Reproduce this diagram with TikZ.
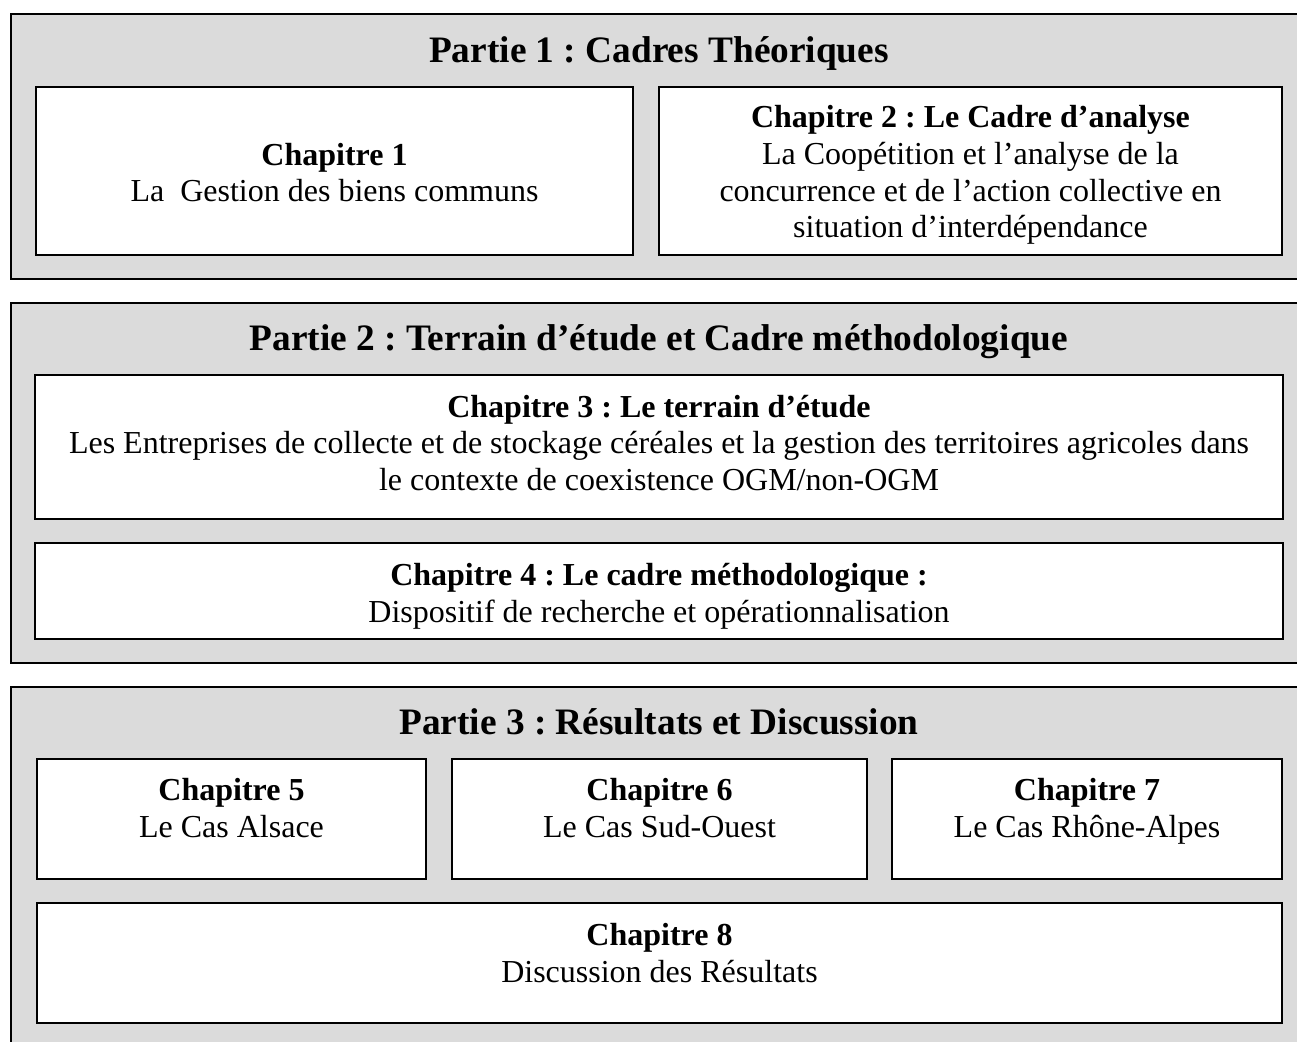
\documentclass[tikz,border=0pt]{standalone}
\usepackage{fontspec}
\setmainfont{Liberation Serif}
\frenchspacing
\newdimen\pxu \pxu=0.375pt

\begin{document}
\begin{tikzpicture}[x=\pxu, y=-\pxu,
	panel/.style = {fill=black!14, draw=black, line width=0.75pt},
	chbox/.style = {draw=black, fill=white, line width=0.75pt, inner sep=0pt},
	chtext/.style = {align=center, inner sep=0pt, font=\fontsize{12}{13.8}\selectfont},
	ptitle/.style = {font=\fontsize{14}{17}\selectfont\bfseries}
	]
	% Parameters
	\def\pageW{1297}  % picture width
	\def\pageH{1041}  % picture height
	\def\midX{659}    % centre of the titles
	
	% Fix the margins
	\useasboundingbox (0,0) rectangle (\pageW,\pageH);
	\clip (0,0) rectangle (\pageW,\pageH);
	
	% Draw the three parts (they run off the page to the right)
	\draw[panel] (11,14) rectangle (\pageW+20,279);
	\draw[panel] (11,303) rectangle (\pageW+20,663);
	\draw[panel] (11,687) rectangle (\pageW+20,\pageH+20);
	
	% Part titles
	\node[ptitle] (p1) at (\midX,53) {Partie 1 : Cadres Théoriques};
	\node[ptitle] (p2) at (\midX,342) {Partie 2 : Terrain d’étude et Cadre méthodologique};
	\node[ptitle] (p3) at (\midX,722) {Partie 3 : Résultats et Discussion};
	
	% Chapter boxes
	\node[chbox, minimum width=597\pxu, minimum height=168\pxu] (ch1) at (334.5,171) {};
	\node[chbox, minimum width=623\pxu, minimum height=168\pxu] (ch2) at (970.5,171) {};
	\node[chbox, minimum width=1248\pxu, minimum height=144\pxu] (ch3) at (659,447) {};
	\node[chbox, minimum width=1248\pxu, minimum height=96\pxu] (ch4) at (659,591) {};
	\node[chbox, minimum width=389\pxu, minimum height=120\pxu] (ch5) at (231.5,819) {};
	\node[chbox, minimum width=415\pxu, minimum height=120\pxu] (ch6) at (659.5,819) {};
	\node[chbox, minimum width=390\pxu, minimum height=120\pxu] (ch7) at (1087,819) {};
	\node[chbox, minimum width=1245\pxu, minimum height=120\pxu] (ch8) at (659.5,963) {};
	
	% Chapter texts
	\node[chtext] (ch1t) at ([yshift=-1.5\pxu]ch1.center)
		{\textbf{Chapitre 1}\\La~ Gestion des biens communs};
	\node[chtext] (ch2t) at ([yshift=-4\pxu]ch2.center)
		{\textbf{Chapitre 2 : Le Cadre d’analyse}\\La Coopétition et l’analyse de la\\
		concurrence et de l’action collective en\\situation d’interdépendance};
	\node[chtext] (ch3t) at ([yshift=4\pxu]ch3.center)
		{\textbf{Chapitre 3 : Le terrain d’étude}\\Les Entreprises de collecte et de stockage céréales et la gestion des territoires agricoles dans\\
		le contexte de coexistence OGM/non-OGM};
	\node[chtext] (ch4t) at ([yshift=-5\pxu]ch4.center)
		{\textbf{Chapitre 4 : Le cadre méthodologique :}\\Dispositif de recherche et opérationnalisation};
	\node[chtext] (ch5t) at ([yshift=11\pxu]ch5.center) {\textbf{Chapitre 5}\\Le Cas Alsace};
	\node[chtext] (ch6t) at ([yshift=11\pxu]ch6.center) {\textbf{Chapitre 6}\\Le Cas Sud-Ouest};
	\node[chtext] (ch7t) at ([yshift=8\pxu]ch7.center) {\textbf{Chapitre 7}\\Le Cas Rhône-Alpes};
	\node[chtext] (ch8t) at ([yshift=10\pxu]ch8.center) {\textbf{Chapitre 8}\\Discussion des Résultats};
	
\end{tikzpicture}
\end{document}
